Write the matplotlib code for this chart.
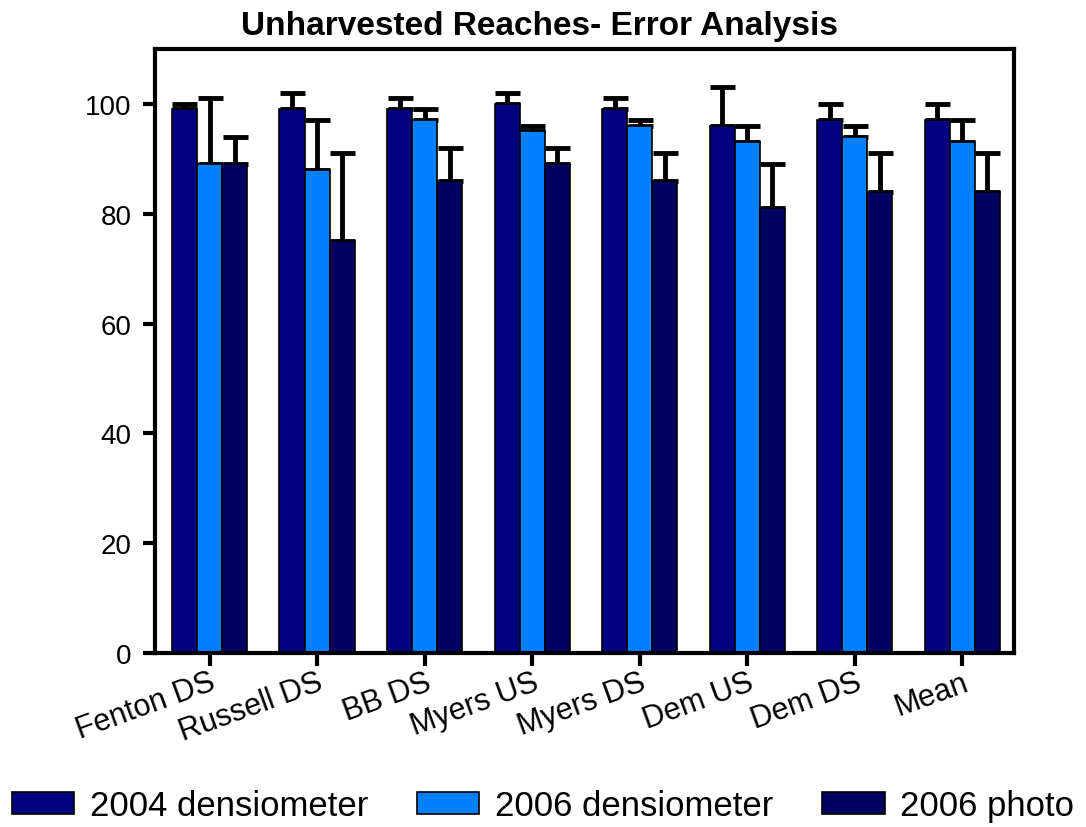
import numpy as np
import matplotlib
matplotlib.use("Agg")
import matplotlib.pyplot as plt

plt.rcParams['font.family'] = ['Liberation Sans', 'DejaVu Sans']

# reaches and canopy cover (%) with upper error
reaches = ["Fenton DS", "Russell DS", "BB DS", "Myers US", "Myers DS", "Dem US", "Dem DS", "Mean"]
dens_2004 = [99, 99, 99, 100, 99, 96, 97, 97]
dens_2004_top = [100, 102, 101, 102, 101, 103, 100, 100]
dens_2006 = [89, 88, 97, 95, 96, 93, 94, 93]
dens_2006_top = [101, 97, 99, 96, 97, 96, 96, 97]
photo_2006 = [89, 75, 86, 89, 86, 81, 84, 84]
photo_2006_top = [94, 91, 92, 92, 91, 89, 91, 91]

series = [
    ("2004 densiometer", dens_2004, dens_2004_top, "#000080"),
    ("2006 densiometer", dens_2006, dens_2006_top, "#0080FF"),
    ("2006 photo", photo_2006, photo_2006_top, "#000060"),
]

fig = plt.figure(figsize=(10.86, 8.28), dpi=100)
ax = fig.add_axes([0.1427, 0.2101, 0.7910, 0.7295])

x = np.arange(len(reaches))
w = 0.233
handles = []
for i, (name, vals, tops, col) in enumerate(series):
    pos = x + (i - 1) * w
    vals = np.array(vals)
    err = np.array(tops) - vals
    b = ax.bar(pos, vals, w, color=col, edgecolor="black", linewidth=1.2, label=name, zorder=2)
    ax.errorbar(pos, vals, yerr=[np.zeros_like(err), err], fmt="none", ecolor="black",
                elinewidth=3.5, capsize=9, capthick=3.5, zorder=1)
    handles.append(b)

ax.set_xlim(-0.507, 7.48)
ax.set_ylim(0, 110)
ax.set_yticks([0, 20, 40, 60, 80, 100])
ax.set_xticks(x)
ax.set_xticklabels(reaches, rotation=20, ha="right", rotation_mode="anchor")
ax.tick_params(axis="both", width=3, length=9, direction="out")
ax.tick_params(axis="y", labelsize=20, pad=8)
ax.tick_params(axis="x", labelsize=22, pad=1)
for s in ax.spines.values():
    s.set_linewidth(3)

fig.text(0.497, 0.968, "Unharvested Reaches- Error Analysis", fontsize=24, fontweight="bold",
         ha="center", va="center")

fig.legend(handles=handles, loc="center", bbox_to_anchor=(0.5, 0.026), ncol=3,
           frameon=False, fontsize=25, handlelength=1.8, handleheight=0.58,
           columnspacing=1.4, handletextpad=0.45, borderaxespad=0, borderpad=0)

fig.savefig("out.png", dpi=100)
